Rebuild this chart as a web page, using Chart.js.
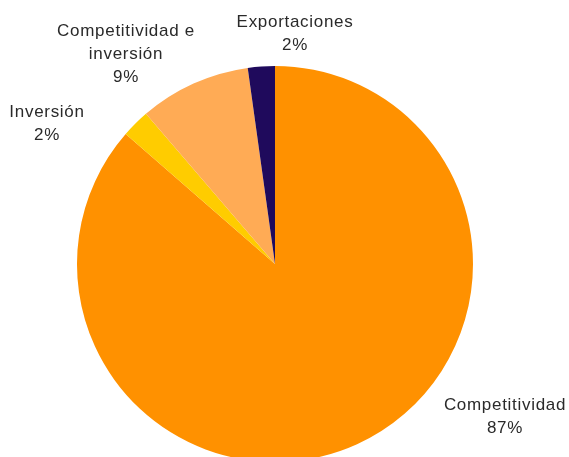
<!DOCTYPE html>
<html>
<head>
<meta charset="utf-8">
<script src="https://cdn.jsdelivr.net/npm/chart.js@4"></script>
<style>
  html, body { margin: 0; padding: 0; background: #fff; overflow: hidden; }
  #wrap { width: 569px; height: 457px; overflow: hidden; }
</style>
</head>
<body>
<div id="wrap">
  <canvas id="pieCanvas" width="569" height="530"></canvas>
</div>
<script>
// Slices, clockwise from 12 o'clock
const categories = ['Competitividad', 'Inversión', 'Competitividad e inversión', 'Exportaciones'];
const shares = [86.4, 2.3, 9.1, 2.2];
const shareLabels = ['87%', '2%', '9%', '2%'];
const labelLines = [['Competitividad'], ['Inversión'], ['Competitividad e', 'inversión'], ['Exportaciones']];
const sliceColors = ['#ff9100', '#ffcc00', '#ffab55', '#1f0a5c'];

// Where each outside label sits, relative to the pie centre (px)
const labelOffsets = [[230, 153], [-228, -140], [-149, -210], [20, -230]];

const outsideLabels = {
  id: 'outsideLabels',
  afterDraw(chart) {
    const ctx = chart.ctx;
    const arc = chart.getDatasetMeta(0).data[0];
    const cx = arc.x, cy = arc.y;
    ctx.save();
    ctx.font = '17px "Liberation Sans", Arial, sans-serif';
    ctx.letterSpacing = '0.7px';
    ctx.fillStyle = '#2a2a2a';
    ctx.textAlign = 'center';
    ctx.textBaseline = 'middle';
    const lineH = 23;
    categories.forEach((c, i) => {
      const lines = labelLines[i].concat([shareLabels[i]]);
      const [dx, dy] = labelOffsets[i];
      const top = cy + dy - (lines.length - 1) * lineH / 2;
      lines.forEach((t, k) => ctx.fillText(t, cx + dx, top + k * lineH));
    });
    ctx.restore();
  }
};

const ctx = document.getElementById('pieCanvas').getContext('2d');
new Chart(ctx, {
  type: 'pie',
  data: {
    labels: categories,
    datasets: [{
      data: shares,
      backgroundColor: sliceColors,
      borderWidth: 0
    }]
  },
  options: {
    responsive: false,
    animation: false,
    layout: { padding: { left: 77, right: 96, top: 66, bottom: 68 } },
    plugins: {
      legend: { display: false },
      tooltip: { enabled: false }
    }
  },
  plugins: [outsideLabels]
});
</script>
</body>
</html>
